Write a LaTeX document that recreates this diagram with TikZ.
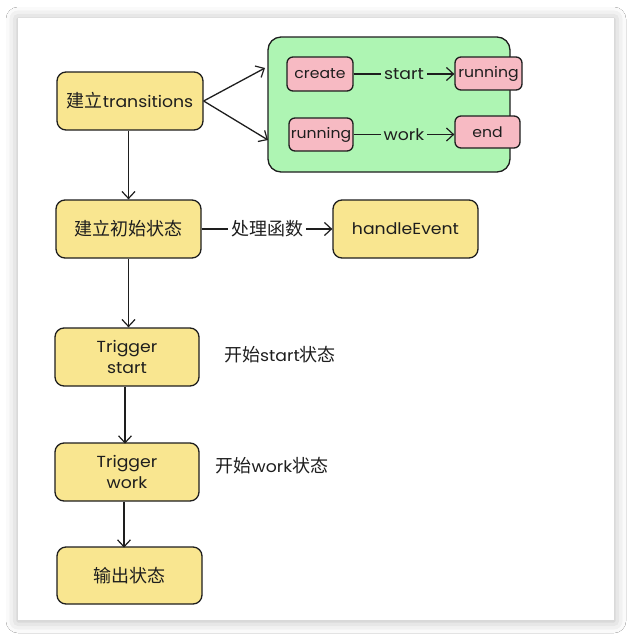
\documentclass[tikz,border=0pt]{standalone}
\usepackage{fontspec}
\setmainfont{Poppins}[FakeStretch=1.08]
\newfontfamily\cjk{Noto Sans CJK SC}
\usetikzlibrary{arrows.meta,shadows.blur}
\definecolor{ink}{HTML}{1E1E1E}
\definecolor{boxyellow}{HTML}{F9E690}
\definecolor{boxgreen}{HTML}{AEF5B3}
\definecolor{boxpink}{HTML}{F7BAC3}
\tikzset{
  yel/.style={draw=ink, fill=boxyellow, line width=1.3pt, rounded corners=9pt, align=center, inner sep=0pt, text=ink, font=\fontsize{16}{21.5}\selectfont},
  pnk/.style={draw=ink, fill=boxpink, line width=1.3pt, rounded corners=6pt, inner sep=0pt, text=ink, font=\fontsize{14.5}{18}\selectfont},
  conn/.style={draw=ink, line width=1.3pt, -{Straight Barb[length=7pt,width=13pt,line width=1.2pt]}},
  lbl/.style={font=\fontsize{16}{20}\selectfont, text=ink},
}
\newcommand{\zh}[1]{{\cjk\fontsize{18}{21}\selectfont #1}}
\begin{document}
\begin{tikzpicture}[x=1pt,y=-1pt]
\fill[white] (0,0) rectangle (632,638);
\useasboundingbox (0,0) rectangle (632,638);
\fill[white, blur shadow={shadow xshift=0pt, shadow yshift=-1pt, shadow blur radius=12pt, shadow opacity=30}] (18,18) rectangle (614,620);

\draw[draw=ink, fill=boxgreen, line width=1.3pt, rounded corners=13pt] (268,104) -- (268,37) -- (510,37) -- (510,172) -- (268,172) -- cycle;
\node[minimum width=242pt, minimum height=135pt, inner sep=0pt] (green) at (389,104.5) {};

\node[yel, minimum width=146pt, minimum height=58pt] (trans) at (130,101) {\zh{建立}transitions};
\node[yel, minimum width=145pt, minimum height=58pt] (init) at (128.5,229) {\zh{建立初始状态}};
\node[yel, minimum width=145pt, minimum height=58pt] (handle) at (405.5,229) {handleEvent};
\node[yel, minimum width=144pt, minimum height=58pt] (tstart) at (127,357) {Trigger\\start};
\node[yel, minimum width=144pt, minimum height=58pt] (twork) at (127,472) {Trigger\\work};
\node[yel, minimum width=145pt, minimum height=57pt] (output) at (129.5,575.5) {\zh{输出状态}};

\node[pnk, minimum width=66pt, minimum height=34pt] (create) at (320,74) {create};
\node[pnk, minimum width=67pt, minimum height=33pt] (run1) at (488.5,73.5) {running};
\node[pnk, minimum width=64pt, minimum height=33pt] (run2) at (321,134.5) {running};
\node[pnk, minimum width=65pt, minimum height=32pt] (endn) at (487.5,132) {end};

\node[lbl] (lstart) at (280,355) {\zh{开始}start\zh{状态}};
\node[lbl] (lwork) at (272,466) {\zh{开始}work\zh{状态}};

\coordinate (g1) at (265,68);
\coordinate (g2) at (268,140);

\draw[conn] (trans.east) -- (g1);
\draw[conn] (trans.east) -- (g2);
\draw[conn] (create.east) -- node[lbl, fill=boxgreen, inner sep=3pt] {start} (run1.west |- create.east);
\draw[conn] (run2.east) -- node[lbl, fill=boxgreen, inner sep=3pt] {work} (endn.west |- run2.east);
\draw[conn] (init.east) -- node[lbl, fill=white, inner sep=3pt] {\zh{处理函数}} (handle.west);
\draw[conn] (trans.south -| init.north) -- (init.north);
\draw[conn] (init.south) -- (init.south |- tstart.north);
\draw[conn] (tstart.south) ++(-2,0) -- ++(0,57);
\draw[conn] (twork.south) ++(-3,0) -- ++(0,46);
\end{tikzpicture}
\end{document}
